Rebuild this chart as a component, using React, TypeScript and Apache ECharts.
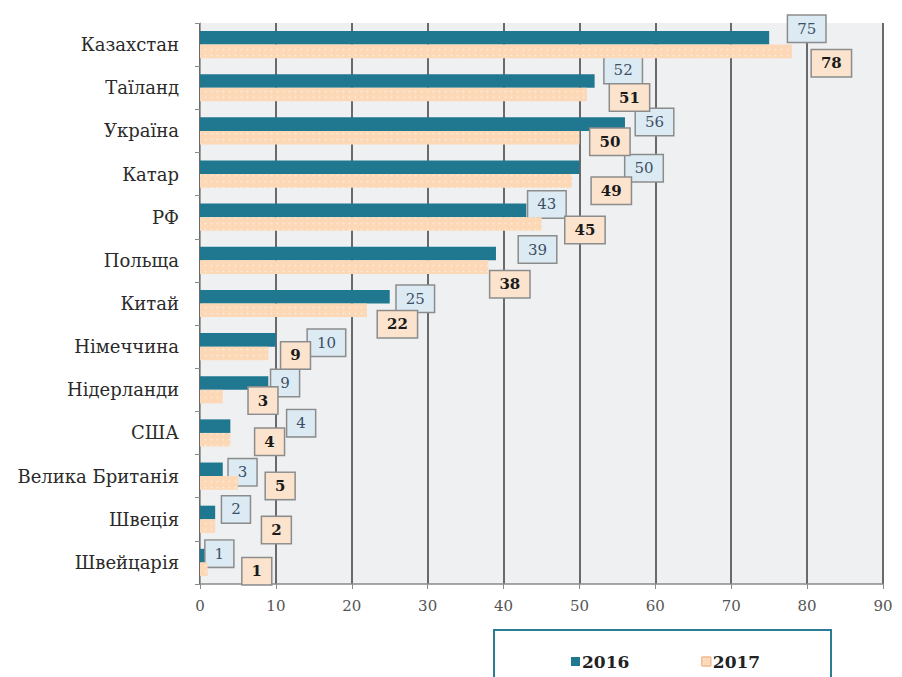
import React, { useEffect, useRef } from "react";
import * as echarts from "echarts";

const categories = [
  "Казахстан", "Таїланд", "Україна", "Катар", "РФ", "Польща", "Китай",
  "Німеччина", "Нідерланди", "США", "Велика Британія", "Швеція", "Швейцарія",
];
const values2016 = [75, 52, 56, 50, 43, 39, 25, 10, 9, 4, 3, 2, 1];
const values2017 = [78, 51, 50, 49, 45, 38, 22, 9, 3, 4, 5, 2, 1];
const seriesNames = ["2016", "2017"];
const xTicks = [0, 10, 20, 30, 40, 50, 60, 70, 80, 90];

// label offsets (px) relative to bar end, as placed in the original
const offsets2016: [number, number][] = [
  [19, -9], [10, -11], [11, -2], [46, 1], [2, -6], [23, -4], [7, 2],
  [32, 3], [3, 0], [57, -3], [6, 3], [7, -3], [-2, -2],
];
const offsets2017: [number, number][] = [
  [20, 12], [23, 3], [11, 4], [20, 10], [24, 6], [2, 17], [11, 14],
  [13, 2], [26, 4], [25, 2], [28, 3], [47, 4], [35, 2],
];

const SERIF = "'DejaVu Serif', 'Liberation Serif', serif";

export default function App() {
  const ref = useRef<HTMLDivElement>(null);
  useEffect(() => {
    document.body.style.margin = "0";
    if (!ref.current) return;
    const chart = echarts.init(ref.current, undefined, { renderer: "svg" });
    const baseLabel = {
      show: true,
      position: "right",
      distance: 0,
      fontFamily: SERIF,
      fontSize: 15,
      lineHeight: 18,
      borderColor: "#8c8c8c",
      borderWidth: 1.5,
      padding: [4, 9, 4, 9],
    };
    const label2016 = {
      ...baseLabel,
      color: "#3d4f66",
      backgroundColor: "#dcebf3",
    };
    const label2017 = {
      ...baseLabel,
      fontWeight: "bold",
      color: "#1a1a1a",
      backgroundColor: "#fbe3cd",
    };
    chart.setOption({
      animation: false,
      backgroundColor: "#ffffff",
      grid: {
        left: 200,
        right: 19,
        top: 23,
        bottom: 93,
        show: true,
        backgroundColor: "#eff0f2",
        borderWidth: 0,
      },
      xAxis: {
        type: "value",
        min: xTicks[0],
        max: xTicks[xTicks.length - 1],
        interval: 10,
        axisLine: { show: true, lineStyle: { color: "#8a8a8a", width: 1.5 } },
        axisTick: { show: true, length: 5, lineStyle: { color: "#8a8a8a" } },
        axisLabel: {
          fontFamily: SERIF,
          fontSize: 15,
          color: "#555",
          margin: 14,
        },
        splitLine: { show: true, lineStyle: { color: "#6a6a6a", width: 2 } },
      },
      yAxis: {
        type: "category",
        inverse: true,
        data: categories,
        axisLine: { show: true, lineStyle: { color: "#a0a0a0", width: 1 } },
        axisTick: { show: true, length: 5, lineStyle: { color: "#8a8a8a" } },
        axisLabel: {
          fontFamily: SERIF,
          fontSize: 18,
          color: "#2a2a2a",
          margin: 21,
        },
      },
      legend: {
        left: 566,
        top: 648,
        itemWidth: 9,
        itemHeight: 9,
        itemGap: 72,
        icon: "rect",
        textStyle: {
          fontFamily: SERIF,
          fontSize: 17,
          fontWeight: "bold",
          color: "#222",
          padding: [0, 0, 0, -3],
        },
        data: [
          { name: seriesNames[0] },
          {
            name: seriesNames[1],
            itemStyle: { color: "#fcd9b8", borderColor: "#f0b890", borderWidth: 1 },
          },
        ],
      },
      graphic: [
        {
          type: "rect",
          left: 493,
          top: 629,
          shape: { width: 337, height: 70 },
          style: { fill: "#ffffff", stroke: "#2a7d93", lineWidth: 2 },
          z: -1,
        },
      ],
      series: [
        {
          name: seriesNames[0],
          type: "bar",
          barGap: "0%",
          barCategoryGap: "37%",
          itemStyle: { color: "#1f7890" },
          data: values2016.map((v, i) => ({
            value: v,
            label: { ...label2016, offset: offsets2016[i] },
          })),
          z: 3,
        },
        {
          name: seriesNames[1],
          type: "bar",
          barGap: "0%",
          barCategoryGap: "37%",
          itemStyle: {
            color: "#fcd8b6",
            decal: {
              symbol: "circle",
              symbolSize: 0.6,
              color: "rgba(255,255,255,0.45)",
              dashArrayX: [3, 3],
              dashArrayY: [3, 3],
            },
          },
          data: values2017.map((v, i) => ({
            value: v,
            label: { ...label2017, offset: offsets2017[i] },
          })),
          z: 4,
        },
      ],
    });
    return () => chart.dispose();
  }, []);
  return <div ref={ref} style={{ width: 902, height: 677 }} />;
}
